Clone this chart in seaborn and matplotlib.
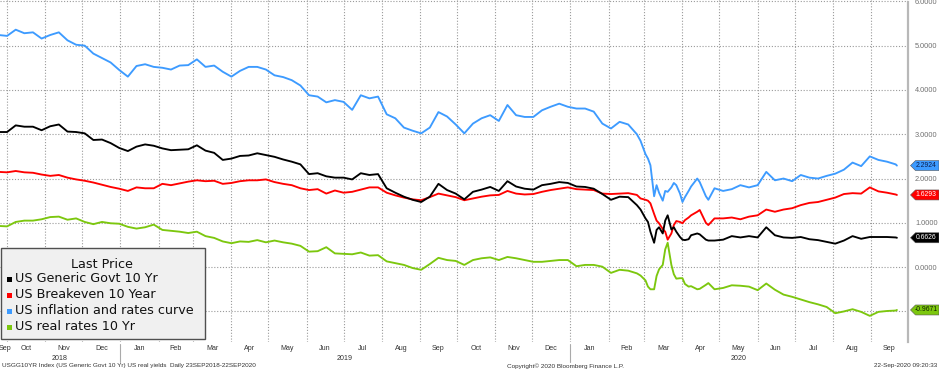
import matplotlib
matplotlib.use("Agg")
import matplotlib.pyplot as plt
import matplotlib.transforms as mtransforms
import matplotlib.dates as mdates
from matplotlib.patches import Rectangle, Polygon
from matplotlib.lines import Line2D
import numpy as np
import pandas as pd
import seaborn as sns

# ---------------- data ----------------
dates = [
    '2018-09-24', '2018-10-01', '2018-10-08', '2018-10-15', '2018-10-22', '2018-10-29',
    '2018-11-05', '2018-11-12', '2018-11-19', '2018-11-26',
    '2018-12-03', '2018-12-10', '2018-12-17', '2018-12-24', '2018-12-31',
    '2019-01-07', '2019-01-14', '2019-01-21', '2019-01-28',
    '2019-02-04', '2019-02-11', '2019-02-18', '2019-02-25',
    '2019-03-04', '2019-03-11', '2019-03-18', '2019-03-25',
    '2019-04-01', '2019-04-08', '2019-04-15', '2019-04-22', '2019-04-29',
    '2019-05-06', '2019-05-13', '2019-05-20', '2019-05-27',
    '2019-06-03', '2019-06-10', '2019-06-17', '2019-06-24',
    '2019-07-01', '2019-07-08', '2019-07-15', '2019-07-22', '2019-07-29',
    '2019-08-05', '2019-08-12', '2019-08-19', '2019-08-26',
    '2019-09-02', '2019-09-09', '2019-09-16', '2019-09-23', '2019-09-30',
    '2019-10-07', '2019-10-14', '2019-10-21', '2019-10-28',
    '2019-11-04', '2019-11-11', '2019-11-18', '2019-11-25',
    '2019-12-02', '2019-12-09', '2019-12-16', '2019-12-23', '2019-12-30',
    '2020-01-06', '2020-01-13', '2020-01-20', '2020-01-27',
    '2020-02-03', '2020-02-10', '2020-02-17', '2020-02-24', '2020-02-27',
    '2020-03-02', '2020-03-04', '2020-03-06', '2020-03-09', '2020-03-11', '2020-03-13',
    '2020-03-16', '2020-03-18', '2020-03-20', '2020-03-23', '2020-03-25', '2020-03-27',
    '2020-03-30', '2020-04-01', '2020-04-03', '2020-04-06', '2020-04-08',
    '2020-04-13', '2020-04-15', '2020-04-20', '2020-04-22', '2020-04-27',
    '2020-05-04', '2020-05-11', '2020-05-18', '2020-05-25',
    '2020-06-01', '2020-06-08', '2020-06-15', '2020-06-22', '2020-06-29',
    '2020-07-06', '2020-07-13', '2020-07-20', '2020-07-27',
    '2020-08-03', '2020-08-10', '2020-08-17', '2020-08-24', '2020-08-31',
    '2020-09-07', '2020-09-14', '2020-09-21', '2020-09-22',
]

govt_10y = [
    3.05, 3.05, 3.20, 3.17, 3.17, 3.09, 3.18, 3.22, 3.06, 3.05,
    3.02, 2.87, 2.88, 2.80, 2.69, 2.62, 2.72, 2.77, 2.74, 2.68,
    2.64, 2.65, 2.66, 2.75, 2.63, 2.58, 2.42, 2.45, 2.51, 2.52,
    2.57, 2.53, 2.49, 2.43, 2.38, 2.32, 2.10, 2.12, 2.05, 2.02,
    2.02, 1.98, 2.12, 2.08, 2.10, 1.78, 1.68, 1.59, 1.52, 1.47,
    1.59, 1.88, 1.74, 1.66, 1.53, 1.70, 1.75, 1.81, 1.72, 1.94,
    1.82, 1.77, 1.75, 1.85, 1.88, 1.92, 1.90, 1.82, 1.81, 1.77,
    1.65, 1.52, 1.59, 1.58, 1.40,
    1.30, 1.10, 1.02, 0.80, 0.55, 0.84, 0.90, 0.76, 1.05, 1.17, 0.85, 0.90,
    0.80, 0.68, 0.62, 0.61, 0.63, 0.72, 0.76, 0.74, 0.62, 0.60, 0.60,
    0.62, 0.70, 0.67, 0.70, 0.67, 0.90, 0.72, 0.67, 0.66, 0.68,
    0.63, 0.61, 0.57, 0.53, 0.60, 0.70, 0.64, 0.68, 0.68, 0.68, 0.67,
    0.6626,
]

breakeven_10y = [
    2.15, 2.14, 2.17, 2.14, 2.13, 2.09, 2.06, 2.08, 2.02, 1.98,
    1.95, 1.91, 1.86, 1.81, 1.77, 1.72, 1.80, 1.78, 1.78, 1.88,
    1.85, 1.89, 1.93, 1.96, 1.94, 1.95, 1.88, 1.90, 1.94, 1.96,
    1.96, 1.98, 1.92, 1.88, 1.85, 1.78, 1.74, 1.76, 1.66, 1.73,
    1.68, 1.70, 1.75, 1.80, 1.80, 1.68, 1.62, 1.57, 1.53, 1.51,
    1.58, 1.66, 1.62, 1.58, 1.51, 1.55, 1.59, 1.62, 1.63, 1.72,
    1.66, 1.64, 1.65, 1.70, 1.74, 1.77, 1.80, 1.76, 1.75, 1.74,
    1.66, 1.65, 1.66, 1.67, 1.63,
    1.55, 1.52, 1.50, 1.44, 1.20, 1.05, 0.99, 0.86, 0.80, 0.62, 0.76, 0.95,
    1.04, 1.02, 0.99, 1.06, 1.12, 1.17, 1.25, 1.29, 1.00, 0.95, 1.10,
    1.10, 1.12, 1.08, 1.14, 1.17, 1.30, 1.25, 1.30, 1.33, 1.40,
    1.45, 1.47, 1.52, 1.57, 1.65, 1.67, 1.66, 1.80, 1.71, 1.68, 1.64,
    1.6293,
]

rates_curve = [
    5.24, 5.22, 5.36, 5.28, 5.30, 5.16, 5.24, 5.30, 5.12, 5.02,
    5.00, 4.82, 4.72, 4.62, 4.45, 4.30, 4.54, 4.58, 4.52, 4.50,
    4.46, 4.55, 4.56, 4.69, 4.52, 4.55, 4.41, 4.30, 4.43, 4.52,
    4.52, 4.46, 4.33, 4.29, 4.22, 4.10, 3.88, 3.85, 3.72, 3.77,
    3.73, 3.55, 3.88, 3.81, 3.85, 3.45, 3.36, 3.15, 3.08, 3.02,
    3.15, 3.50, 3.40, 3.22, 3.02, 3.24, 3.36, 3.43, 3.30, 3.66,
    3.43, 3.39, 3.39, 3.54, 3.62, 3.69, 3.62, 3.58, 3.58, 3.51,
    3.24, 3.13, 3.28, 3.22, 3.00,
    2.85, 2.55, 2.45, 2.30, 1.60, 1.85, 1.68, 1.50, 1.72, 1.70, 1.80, 1.90,
    1.85, 1.66, 1.47, 1.58, 1.72, 1.82, 2.00, 1.92, 1.60, 1.52, 1.78,
    1.72, 1.76, 1.85, 1.80, 1.85, 2.15, 1.96, 2.00, 1.94, 2.08,
    2.02, 2.00, 2.06, 2.11, 2.20, 2.36, 2.28, 2.50, 2.42, 2.38, 2.32,
    2.2924,
]

real_10y = [
    0.93, 0.92, 1.02, 1.05, 1.05, 1.08, 1.13, 1.14, 1.07, 1.10,
    1.02, 0.97, 1.02, 0.99, 0.98, 0.91, 0.87, 0.90, 0.96, 0.84,
    0.82, 0.80, 0.77, 0.80, 0.70, 0.66, 0.58, 0.54, 0.58, 0.57,
    0.61, 0.56, 0.60, 0.56, 0.53, 0.48, 0.35, 0.36, 0.45, 0.31,
    0.30, 0.29, 0.33, 0.26, 0.27, 0.13, 0.09, 0.05, -0.02, -0.06,
    0.07, 0.21, 0.16, 0.14, 0.05, 0.16, 0.20, 0.22, 0.16, 0.23,
    0.20, 0.16, 0.12, 0.12, 0.14, 0.16, 0.16, 0.02, 0.05, 0.05,
    0.01, -0.13, -0.06, -0.08, -0.14,
    -0.19, -0.30, -0.44, -0.50, -0.50, -0.20, -0.05, 0.05, 0.40, 0.55, 0.05, -0.16,
    -0.26, -0.25, -0.25, -0.38, -0.44, -0.43, -0.50, -0.49, -0.40, -0.36, -0.50,
    -0.47, -0.41, -0.42, -0.44, -0.52, -0.37, -0.51, -0.62, -0.67, -0.73,
    -0.79, -0.84, -0.90, -1.04, -1.00, -0.95, -1.01, -1.10, -1.01, -0.99, -0.98,
    -0.9671,
]

series_names = ['US Generic Govt 10 Yr', 'US Breakeven 10 Year',
                'US inflation and rates curve', 'US real rates 10 Yr']
series_colors = ['#000000', '#ff0000', '#3d9bff', '#7cc70e']
tag_text_colors = ['#ffffff', '#ffffff', '#0d1f4d', '#102000']
last_price_labels = ['0.6626', '1.6293', '2.2924', '-0.9671']

month_labels = ['Sep', 'Oct', 'Nov', 'Dec', 'Jan', 'Feb', 'Mar', 'Apr', 'May', 'Jun',
                'Jul', 'Aug', 'Sep', 'Oct', 'Nov', 'Dec', 'Jan', 'Feb', 'Mar', 'Apr',
                'May', 'Jun', 'Jul', 'Aug', 'Sep']
year_labels = ['2018', '2019', '2020']
y_tick_values = [-1, 0, 1, 2, 3, 4, 5, 6]

legend_title = 'Last Price'
footer_left = 'USGG10YR Index (US Generic Govt 10 Yr) US real yields  Daily 23SEP2018-22SEP2020'
footer_mid = 'Copyright\u00a9 2020 Bloomberg Finance L.P.'
footer_right = '22-Sep-2020 09:20:33'

# ---------------- figure ----------------
W, H = 939, 370


def fx(px):
    return px / W


def fy(py):
    return 1 - py / H


sns.set_theme(style='white')
plt.rcParams['font.family'] = ['DejaVu Sans']
SMALL = ['Liberation Sans', 'DejaVu Sans']

fig = plt.figure(figsize=(W / 100, H / 100), dpi=100, facecolor='white')
ax = fig.add_axes([0, fy(342), fx(908), 342 / H])
ax.set_facecolor('white')

df = pd.DataFrame({'date': pd.to_datetime(dates)})
for name, vals in zip(series_names, [govt_10y, breakeven_10y, rates_curve, real_10y]):
    df[name] = vals
long_df = df.melt(id_vars='date', var_name='series', value_name='value')
palette = dict(zip(series_names, series_colors))
draw_order = [series_names[2], series_names[3], series_names[1], series_names[0]]
sns.lineplot(data=long_df, x='date', y='value', hue='series', hue_order=draw_order,
             palette=palette, linewidth=1.35, legend=False, estimator=None, ax=ax)

x0 = pd.Timestamp('2018-09-25 06:00')
x1 = pd.Timestamp('2020-10-01')
ax.set_xlim(x0, x1)
ax.set_ylim(-1.69, 6.03)
ax.set_xlabel('')
ax.set_ylabel('')

ax.xaxis.set_major_locator(mdates.MonthLocator())
ax.tick_params(axis='x', length=0, labelbottom=False)

ax.yaxis.tick_right()
ax.set_yticks(y_tick_values)
ax.set_yticklabels(['' if v < 0 else f'{v:.4f}' for v in y_tick_values])
ax.tick_params(axis='y', length=0, pad=5, labelsize=5.3, labelcolor='#707070')
for lbl in ax.get_yticklabels():
    lbl.set_fontfamily(SMALL)

ax.grid(True, color='#9a9a9a', linestyle=(0, (1, 1.6)), linewidth=0.8)
ax.set_axisbelow(True)
for s in ['left', 'top', 'bottom']:
    ax.spines[s].set_visible(False)
ax.spines['right'].set_color('#b8b8b8')
ax.spines['right'].set_linewidth(1.6)
ax.spines['right'].set_linestyle((0, (1, 1)))

# last-price tags on the right axis
blend_y = mtransforms.blended_transform_factory(fig.transFigure, ax.transData)
px_per_unit = 342 / (6.03 + 1.69)
hh = 5.0 / px_per_unit
for lab, col, tcol in zip(last_price_labels, series_colors, tag_text_colors):
    v = float(lab)
    poly = Polygon([(fx(910.5), v), (fx(915.5), v + hh), (fx(939), v + hh),
                    (fx(939), v - hh), (fx(915.5), v - hh)], closed=True,
                   transform=blend_y, facecolor=col, edgecolor='#555555',
                   linewidth=0.4, clip_on=False, zorder=5)
    fig.add_artist(poly)
    fig.text(fx(926), v, lab, transform=blend_y, ha='center', va='center',
             fontsize=4.9, color=tcol, family=SMALL, zorder=6)

# month & year labels below the plot
blend_x = mtransforms.blended_transform_factory(ax.transData, fig.transFigure)
month_starts = pd.date_range('2018-09-01', periods=len(month_labels), freq='MS')
for m, lab in zip(month_starts, month_labels):
    mid = m + pd.Timedelta(days=m.days_in_month / 2)
    if mid < x0:
        mid = x0 + pd.Timedelta(days=4)
    ax.text(mid, fy(349), lab, transform=blend_x, ha='center', va='center',
            fontsize=5.1, color='#333333', family=SMALL, clip_on=False)

for yl in year_labels:
    ys = max(pd.Timestamp(f'{yl}-01-01'), x0)
    ye = min(pd.Timestamp(f'{yl}-12-31'), x1)
    ax.text(ys + (ye - ys) / 2, fy(358), yl, transform=blend_x, ha='center',
            va='center', fontsize=5.1, color='#333333', family=SMALL, clip_on=False)
    if pd.Timestamp(f'{yl}-01-01') > x0:
        xn = mdates.date2num(pd.Timestamp(f'{yl}-01-01'))
        ax.add_artist(Line2D([xn, xn], [fy(344), fy(362)], transform=blend_x,
                             color='#aaaaaa', linewidth=0.8, clip_on=False))

# footer
fig.text(fx(2), fy(366), footer_left, ha='left', va='center', fontsize=4.6,
         color='#333333', family=SMALL)
fig.text(fx(507), fy(366), footer_mid, ha='left', va='center', fontsize=4.6,
         color='#333333', family=SMALL)
fig.text(fx(937), fy(366), footer_right, ha='right', va='center', fontsize=4.6,
         color='#333333', family=SMALL)

# legend box
fig.add_artist(Rectangle((fx(1), fy(339)), fx(204), (339 - 248) / H,
                         transform=fig.transFigure, facecolor='#f0f0f0',
                         edgecolor='#505050', linewidth=1.0, zorder=4))
fig.text(fx(102), fy(264), legend_title, ha='center', va='center', fontsize=9.2,
         color='#111111', zorder=5)
for i, (name, col) in enumerate(zip(series_names, series_colors)):
    yc = 279 + i * 16
    fig.add_artist(Rectangle((fx(7), fy(yc + 2.5)), fx(5), 5 / H,
                             transform=fig.transFigure, facecolor=col,
                             edgecolor='none', zorder=5))
    fig.text(fx(15), fy(yc), name, ha='left', va='center', fontsize=9.2,
             color='#111111', zorder=5)

fig.savefig('out.png', dpi=100, facecolor='white')
